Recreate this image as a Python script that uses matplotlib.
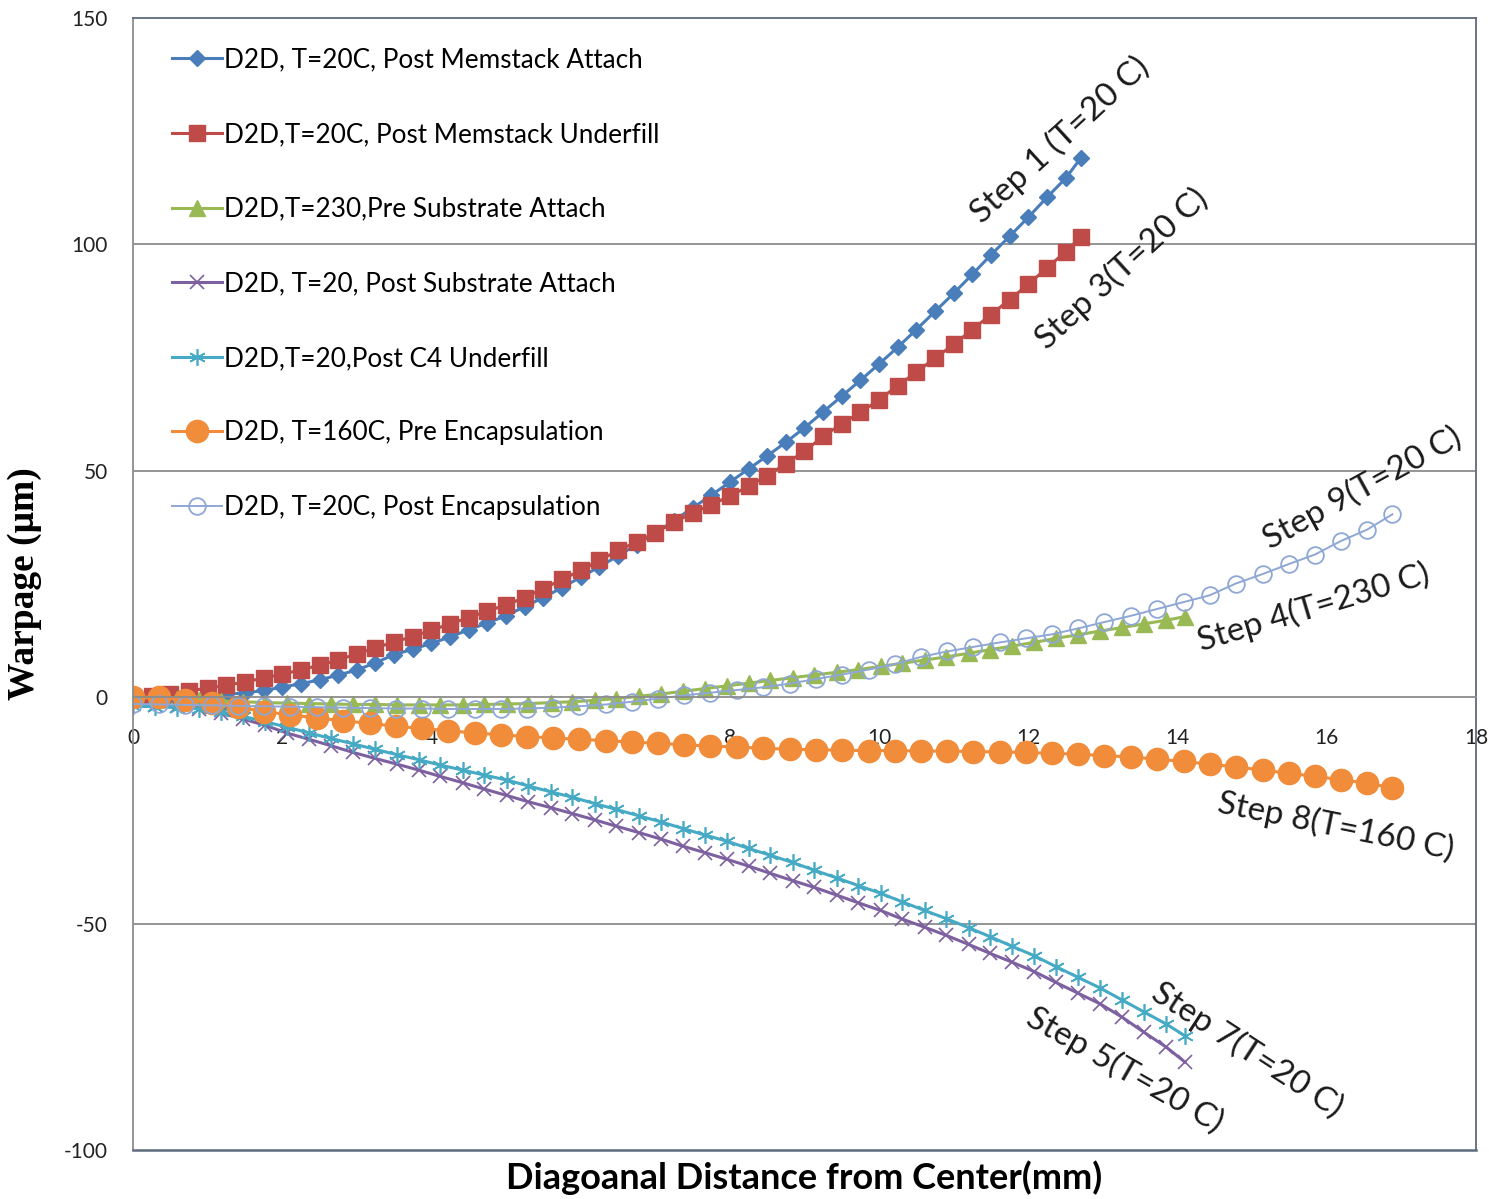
import numpy as np
import matplotlib
matplotlib.use("Agg")
import matplotlib.pyplot as plt

plt.rcParams['font.family'] = ['Lato', 'DejaVu Sans']
plt.rcParams['axes.unicode_minus'] = False

# sample positions along the diagonal (mm)
x_mem = [0.0, 0.25, 0.5, 0.75, 1.0, 1.25, 1.5, 1.75, 2.0, 2.25, 2.5, 2.75, 3.0,
         3.25, 3.5, 3.75, 4.0, 4.25, 4.5, 4.75, 5.0, 5.25, 5.5, 5.75, 6.0, 6.25,
         6.5, 6.75, 7.0, 7.25, 7.5, 7.75, 8.0, 8.25, 8.5, 8.75, 9.0, 9.25, 9.5,
         9.75, 10.0, 10.25, 10.5, 10.75, 11.0, 11.25, 11.5, 11.75, 12.0, 12.25,
         12.5, 12.7]
x_sub = [0.0, 0.29, 0.59, 0.88, 1.18, 1.47, 1.77, 2.06, 2.36, 2.65, 2.95, 3.24,
         3.54, 3.83, 4.12, 4.42, 4.71, 5.01, 5.30, 5.60, 5.89, 6.19, 6.48, 6.78,
         7.07, 7.37, 7.66, 7.96, 8.25, 8.54, 8.84, 9.13, 9.43, 9.72, 10.02, 10.31,
         10.61, 10.90, 11.20, 11.49, 11.78, 12.08, 12.37, 12.67, 12.96, 13.26,
         13.55, 13.85, 14.1]
x_enc = [0.0, 0.35, 0.70, 1.06, 1.41, 1.76, 2.11, 2.46, 2.82, 3.17, 3.52, 3.87,
         4.22, 4.58, 4.93, 5.28, 5.63, 5.98, 6.34, 6.69, 7.04, 7.39, 7.74, 8.10,
         8.45, 8.80, 9.15, 9.50, 9.86, 10.21, 10.56, 10.91, 11.26, 11.62, 11.97,
         12.32, 12.67, 13.02, 13.38, 13.73, 14.08, 14.43, 14.78, 15.14, 15.49,
         15.84, 16.19, 16.54, 16.88]

# warpage (um)
step1 = [0.0, 0.0, 0.1, 0.3, 0.5, 0.7, 0.9, 1.5, 2.2, 3.0, 3.8, 4.9, 6.0, 7.6,
         9.4, 10.6, 11.9, 13.3, 14.9, 16.4, 18.0, 20.0, 22.0, 24.2, 26.5, 28.8,
         31.2, 33.7, 36.3, 39.0, 41.8, 44.6, 47.5, 50.4, 53.3, 56.3, 59.5, 63.0,
         66.5, 70.0, 73.6, 77.3, 81.2, 85.2, 89.2, 93.4, 97.7, 101.8, 106.0,
         110.4, 114.6, 119.0]
step3 = [0.0, 0.2, 0.6, 1.4, 2.0, 2.6, 3.4, 4.2, 5.1, 6.0, 7.1, 8.2, 9.6, 10.9,
         12.2, 13.4, 14.8, 16.2, 17.6, 19.0, 20.4, 22.0, 24.0, 26.0, 28.0, 30.2,
         32.4, 34.3, 36.3, 38.6, 40.7, 42.5, 44.4, 46.6, 48.9, 51.6, 54.3, 57.6,
         60.4, 62.9, 65.7, 68.8, 71.8, 74.9, 77.9, 81.2, 84.5, 87.8, 91.2, 94.8,
         98.4, 101.6]
step4 = [0.0, -0.2, -0.4, -0.6, -0.8, -1.0, -1.2, -1.3, -1.4, -1.5, -1.6, -1.6,
         -1.7, -1.7, -1.7, -1.7, -1.6, -1.5, -1.4, -1.2, -1.0, -0.7, -0.3, 0.2,
         0.7, 1.3, 1.9, 2.5, 3.1, 3.7, 4.3, 4.9, 5.5, 6.1, 6.8, 7.5, 8.2, 8.9,
         9.7, 10.5, 11.3, 12.1, 13.0, 13.8, 14.6, 15.4, 16.2, 17.0, 17.8]
step5 = [-1.5, -1.7, -2.0, -2.5, -3.5, -4.8, -6.2, -7.9, -9.3, -10.7, -12.2,
         -13.5, -14.8, -16.1, -17.5, -18.9, -20.3, -21.7, -23.1, -24.4, -25.7,
         -27.1, -28.5, -29.9, -31.3, -32.9, -34.3, -35.8, -37.3, -38.9, -40.5,
         -42.0, -43.7, -45.4, -47.1, -49.0, -50.8, -52.6, -54.6, -56.6, -58.5,
         -60.6, -63.0, -65.4, -67.7, -70.7, -74.0, -77.3, -80.6]
step7 = [-2.0, -2.1, -2.3, -2.5, -3.2, -4.2, -5.4, -6.6, -7.9, -9.1, -10.3,
         -11.5, -12.7, -13.8, -15.0, -16.1, -17.2, -18.3, -19.6, -20.9, -22.1,
         -23.5, -24.8, -26.2, -27.5, -29.0, -30.4, -31.8, -33.4, -34.9, -36.5,
         -38.2, -39.9, -41.6, -43.3, -45.2, -47.1, -48.9, -50.9, -52.9, -55.0,
         -57.1, -59.5, -61.9, -64.2, -66.9, -69.5, -72.2, -74.8]
step8 = [0.0, 0.0, -0.6, -1.3, -2.1, -3.2, -3.9, -4.6, -5.2, -5.8, -6.4, -6.9,
         -7.4, -7.9, -8.3, -8.7, -9.0, -9.3, -9.6, -9.9, -10.2, -10.5, -10.8,
         -11.0, -11.3, -11.5, -11.6, -11.7, -11.8, -11.8, -11.9, -11.9, -12.0,
         -12.1, -12.2, -12.4, -12.6, -12.9, -13.2, -13.7, -14.2, -14.8, -15.4,
         -16.1, -16.8, -17.5, -18.2, -19.0, -20.0]
step9 = [-1.5, -1.6, -1.7, -1.8, -1.9, -2.0, -2.1, -2.2, -2.3, -2.4, -2.5, -2.5,
         -2.6, -2.6, -2.6, -2.5, -2.3, -2.0, -1.6, -1.0, -0.3, 0.4, 1.0, 1.6,
         2.2, 3.0, 4.0, 5.0, 6.1, 7.3, 8.9, 10.1, 11.1, 12.1, 13.0, 13.9, 15.2,
         16.6, 18.0, 19.5, 21.0, 22.5, 25.1, 27.2, 29.4, 31.5, 34.5, 37.0, 40.4]

labels = ["D2D, T=20C, Post Memstack Attach",
          "D2D,T=20C, Post Memstack Underfill",
          "D2D,T=230,Pre Substrate Attach",
          "D2D, T=20, Post Substrate Attach",
          "D2D,T=20,Post C4 Underfill",
          "D2D, T=160C, Pre Encapsulation",
          "D2D, T=20C, Post Encapsulation"]

step_text = ["Step 1 (T=20 C)", "Step 3(T=20 C)", "Step 9(T=20 C)",
             "Step 4(T=230 C)", "Step 8(T=160 C)", "Step 7(T=20 C)",
             "Step 5(T=20 C)"]
step_pos = [(12.42, 123.0), (13.25, 94.7), (16.47, 46.2), (15.83, 19.7),
            (16.12, -28.5), (14.93, -78.0), (13.29, -82.4)]
step_rot = [42.5, 42.5, 28.7, 16.6, -11.4, -33.0, -29.7]

fig = plt.figure(figsize=(14.89, 11.99), dpi=100)
ax = fig.add_axes([133 / 1489, 49 / 1199, 1343 / 1489, 1132 / 1199])

ax.plot(x_mem, step1, color='#4A7EBB', lw=2.2, marker='D', ms=8, label=labels[0])
ax.plot(x_mem, step3, color='#BE4B48', lw=2.2, marker='s', ms=11, label=labels[1])
ax.plot(x_sub, step4, color='#98B954', lw=2.2, marker='^', ms=11, label=labels[2])
ax.plot(x_sub, step5, color='#7D60A0', lw=2.2, marker='x', ms=10, mew=1.2, label=labels[3])
ax.plot(x_sub, step7, color='#46AAC5', lw=2.2, marker=(6, 2, 0), ms=12, mew=1.2, label=labels[4])
ax.plot(x_enc, step8, color='#F08C3A', lw=2.2, marker='o', ms=16, label=labels[5])
ax.plot(x_enc, step9, color='#8EA7D5', lw=1.4, marker='o', ms=12, mfc='none', mew=1.3,
        label=labels[6])

for txt, (tx, ty), rot in zip(step_text, step_pos, step_rot):
    ax.text(tx, ty, txt, rotation=rot, rotation_mode='anchor', ha='center', va='center',
            fontsize=24, color='#1a1a1a')

ax.set_xlim(0, 18)
ax.set_ylim(-100, 150)
ax.set_xticks(range(0, 19, 2))
ax.set_yticks(range(-100, 151, 50))
ax.tick_params(length=0, labelsize=15, colors='#222222')
ax.tick_params(axis='x', pad=22)
ax.tick_params(axis='y', pad=18)
for lab in ax.get_yticklabels():
    lab.set_fontstretch('condensed')

for gy in (-50, 50, 100):
    ax.axhline(gy, color='#8c8c8c', lw=1.3, zorder=0)
ax.spines['bottom'].set_position(('data', 0))
ax.spines['bottom'].set_color('#8c8c8c')
ax.spines['bottom'].set_linewidth(1.3)
ax.spines['left'].set_color('#8c8c8c')
ax.spines['left'].set_linewidth(1.3)
for side in ('top', 'right'):
    ax.spines[side].set_color('#5d6b7d')
    ax.spines[side].set_linewidth(1.3)
ax.axhline(-100, color='#5d6b7d', lw=1.8, clip_on=False, zorder=3)

ax.set_ylabel('Warpage (μm)', fontsize=27, fontweight='bold',
              family=['Liberation Serif', 'DejaVu Serif'])
ax.set_xlabel('Diagoanal Distance from Center(mm)', fontsize=26, fontweight='bold')
ax.xaxis.set_label_coords(0.5, -0.009)
ax.yaxis.set_label_coords(-0.068, 0.5)

ax.legend(loc='upper left', bbox_to_anchor=(0.029, 0.974), frameon=False, fontsize=18.8,
          handlelength=1.9, handletextpad=0.1, labelspacing=1.9, borderaxespad=0,
          borderpad=0)

fig.savefig('out.png', dpi=100)
